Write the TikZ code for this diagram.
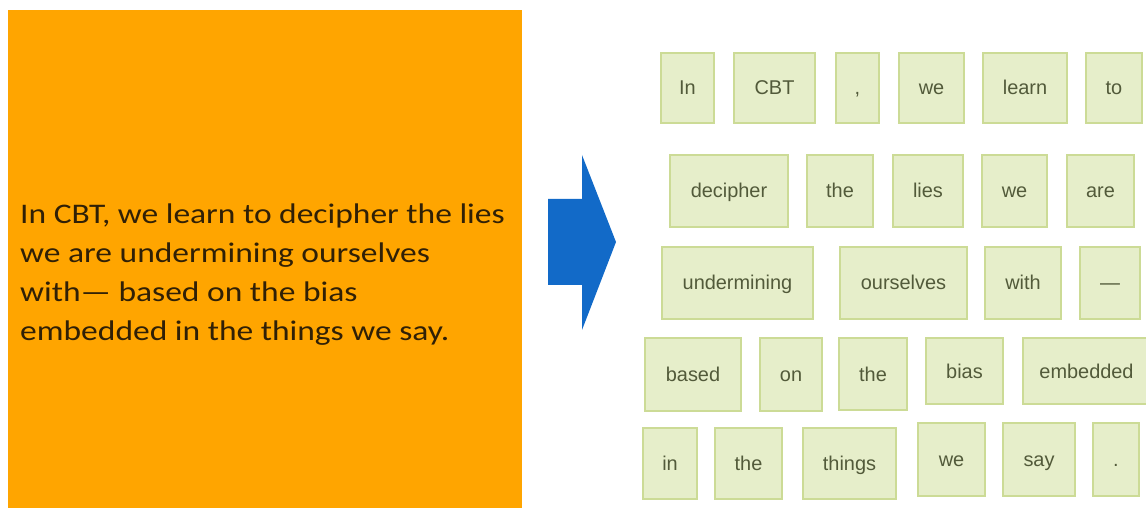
\documentclass[tikz,border=0pt]{standalone}
\usepackage{fontspec}
\setmainfont{Liberation Sans}
\newfontfamily\calfont[FakeStretch=1.18]{Carlito}

\begin{document}
\begin{tikzpicture}[x=1bp,y=-1bp,font=\fontsize{20}{24}\selectfont]

    \definecolor{slide}{RGB}{255,165,0}
    \definecolor{slidetext}{RGB}{48,32,6}
    \definecolor{tokfill}{RGB}{230,238,202}
    \definecolor{tokedge}{RGB}{204,219,150}
    \definecolor{toktext}{RGB}{82,90,58}
    \definecolor{arrowblue}{RGB}{18,106,200}

    \tikzset{tokbox/.style={draw=tokedge,fill=tokfill,line width=2.2bp,text=toktext,
            inner sep=0pt,text height=17bp,text depth=3bp}}

    \newcommand{\tok}[6]{%
        \node[tokbox,minimum width={(#3-#2)*1bp},minimum height={(#5-#4)*1bp}]
        (#1) at ({(#2+#3)/2},{(#4+#5)/2}) {#6};
    }

    \useasboundingbox (0,0) rectangle (1146,508);

    % the sentence
    \fill[slide] (8,10) rectangle (522,508);
    \node[anchor=base west,align=left,inner sep=0pt,text=slidetext,
        font=\calfont\fontsize{28.5}{39.3}\selectfont] (sentence) at (20,341)
        {In CBT, we learn to decipher the lies\\we are undermining ourselves\\with— based on the bias\\embedded in the things we say.};

    % block arrow
    \fill[arrowblue] (548,199) -- (582,199) -- (582,155) -- (616,242)
    -- (582,330) -- (582,285) -- (548,285) -- cycle;

    % tokens
    \tok{in}{661}{714}{53}{123}{In}
    \tok{cbt}{734}{815}{53}{123}{CBT}
    \tok{comma}{836}{879}{53}{123}{,}
    \tok{we1}{899}{964}{53}{123}{we}
    \tok{learn}{983}{1067}{53}{123}{learn}
    \tok{to}{1086}{1142}{53}{123}{to}

    \tok{decipher}{670}{788}{155}{227}{decipher}
    \tok{the1}{807}{873}{155}{227}{the}
    \tok{lies}{893}{963}{155}{227}{lies}
    \tok{we2}{982}{1047}{155}{227}{we}
    \tok{are}{1067}{1134}{155}{227}{are}

    \tok{undermining}{662}{813}{247}{319}{undermining}
    \tok{ourselves}{840}{967}{247}{319}{ourselves}
    \tok{with}{985}{1061}{247}{319}{with}
    \tok{dash}{1080}{1140}{247}{319}{—}

    \tok{based}{645}{741}{338}{411}{based}
    \tok{on}{760}{822}{338}{411}{on}
    \tok{the2}{839}{907}{338}{410}{the}
    \tok{bias}{926}{1003}{338}{404}{bias}
    \tok{embedded}{1023}{1150}{338}{404}{embedded}

    \tok{in2}{643}{697}{428}{499}{in}
    \tok{the3}{715}{782}{428}{499}{the}
    \tok{things}{803}{896}{428}{499}{things}
    \tok{we3}{918}{985}{423}{496}{we}
    \tok{say}{1003}{1075}{423}{496}{say}
    \tok{stop}{1093}{1139}{423}{496}{.}

\end{tikzpicture}
\end{document}
